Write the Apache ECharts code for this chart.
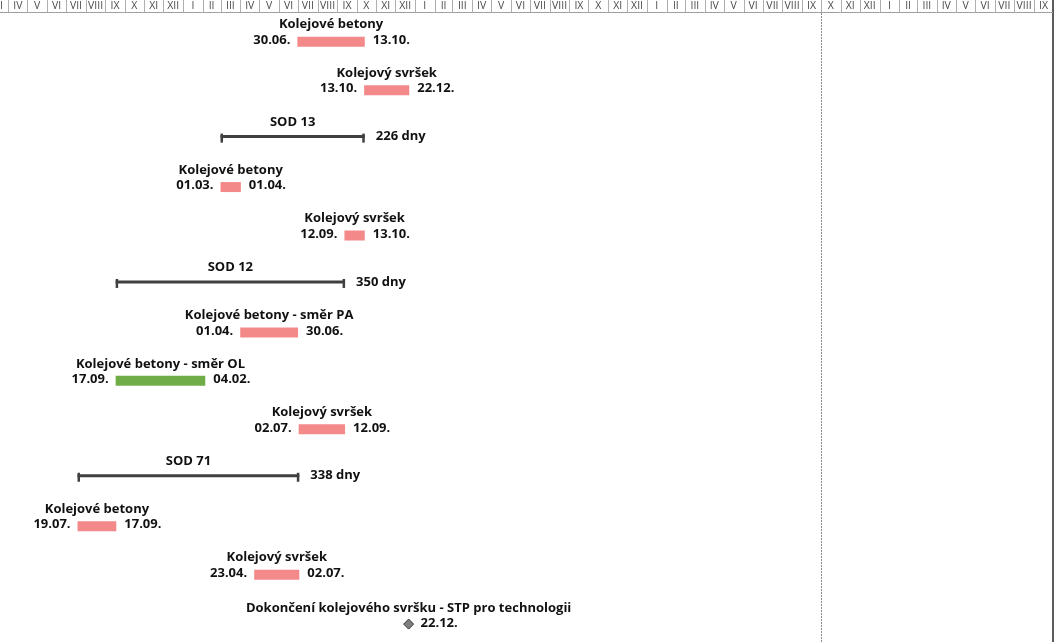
<!DOCTYPE html>
<html>
<head>
<meta charset="utf-8">
<script src="https://cdn.jsdelivr.net/npm/echarts@6/dist/echarts.min.js"></script>
<style>html,body{margin:0;padding:0;background:#fff}#c{width:1064px;height:642px}</style>
</head>
<body>
<div id="c"></div>
<script>
// ---- axis / tick labels ----
const romanMonths = ['I','II','III','IV','V','VI','VII','VIII','IX','X','XI','XII'];
const axisStart = '2025-03-19';
const axisEnd = '2029-10-01';
const statusDate = '2028-10-01';

// ---- task bars ----
const taskRows   = [0, 1, 3, 4, 6, 7, 8, 10, 11];
const taskNames  = ['Kolejové betony', 'Kolejový svršek', 'Kolejové betony', 'Kolejový svršek',
                    'Kolejové betony - směr PA', 'Kolejové betony - směr OL', 'Kolejový svršek',
                    'Kolejové betony', 'Kolejový svršek'];
const taskStarts = ['2026-06-30', '2026-10-13', '2026-03-01', '2026-09-12',
                    '2026-04-01', '2025-09-17', '2026-07-02', '2025-07-19', '2026-04-23'];
const taskEnds   = ['2026-10-13', '2026-12-22', '2026-04-01', '2026-10-13',
                    '2026-06-30', '2026-02-04', '2026-09-12', '2025-09-17', '2026-07-02'];
const taskGroups = ['plan', 'plan', 'plan', 'plan', 'plan', 'alt', 'plan', 'plan', 'plan'];

// ---- summary (SOD) lines ----
const summaryRows   = [2, 5, 9];
const summaryNames  = ['SOD 13', 'SOD 12', 'SOD 71'];
const summaryStarts = ['2026-03-01', '2025-09-17', '2025-07-19'];
const summaryEnds   = ['2026-10-13', '2026-09-12', '2026-07-02'];
const summaryDays   = [226, 350, 338];

// ---- milestones ----
const milestoneRows  = [12];
const milestoneNames = ['Dokončení kolejového svršku - STP pro technologii'];
const milestoneDates = ['2026-12-22'];

// ---- helpers ----
function toTime(s, addDays) {
  const p = s.split('-').map(Number);
  return new Date(p[0], p[1] - 1, p[2] + (addDays || 0)).getTime();
}
function dm(s) { const p = s.split('-'); return p[2] + '.' + p[1] + '.'; }

const COLORS = { plan: '#F4898A', alt: '#70AD47' };
const BOLD = 'bold 13px "Open Sans", "Noto Sans", sans-serif';
const TXT = '#111111';

// month cells for the header
const months = [];
(function () {
  const a = new Date(toTime(axisStart));
  const e = toTime(axisEnd);
  let y = a.getFullYear(), m = a.getMonth();
  while (new Date(y, m, 1).getTime() < e) {
    months.push([new Date(y, m, 1).getTime(), new Date(y, m + 1, 1).getTime(), m]);
    m++; if (m > 11) { m = 0; y++; }
  }
})();

const taskData = taskRows.map((r, i) => [toTime(taskStarts[i]), toTime(taskEnds[i], 1), r, i]);
const summaryData = summaryRows.map((r, i) => [toTime(summaryStarts[i]), toTime(summaryEnds[i], 1), r, i]);
const milestoneData = milestoneRows.map((r, i) => [toTime(milestoneDates[i]), r, i]);

const chart = echarts.init(document.getElementById('c'), null, { renderer: 'canvas' });

chart.setOption({
  animation: false,
  backgroundColor: '#ffffff',
  grid: { left: 0, right: 11, top: 0, bottom: 0, containLabel: false },
  xAxis: {
    type: 'time', min: toTime(axisStart), max: toTime(axisEnd),
    show: false, splitLine: { show: false }
  },
  yAxis: {
    type: 'value', inverse: true, min: -0.861, max: 12.39, position: 'right',
    axisLine: { show: true, onZero: false, lineStyle: { color: '#262626', width: 1.5 } },
    axisTick: { show: false }, axisLabel: { show: false }, splitLine: { show: false }
  },
  series: [
    {
      // month header
      type: 'custom', clip: true, silent: true,
      encode: { x: [0, 1] },
      data: months,
      renderItem: function (params, api) {
        const s = api.coord([api.value(0), 0]);
        const e = api.coord([api.value(1), 0]);
        const top = params.coordSys.y;
        const xs = Math.round(s[0]) + 0.5;
        return {
          type: 'group', children: [
            { type: 'line', shape: { x1: xs, y1: top, x2: xs, y2: top + 12.5 },
              style: { stroke: '#b0b0b0', lineWidth: 1 } },
            { type: 'line', shape: { x1: s[0], y1: top + 12.5, x2: e[0], y2: top + 12.5 },
              style: { stroke: '#a0a0a0', lineWidth: 1 } },
            { type: 'text', x: (s[0] + e[0]) / 2, y: top + 6.5,
              style: { text: romanMonths[api.value(2)], align: 'center', verticalAlign: 'middle',
                       font: '10.5px "Open Sans", sans-serif', fill: '#4a4a4a' } }
          ]
        };
      }
    },
    {
      // status line
      type: 'custom', clip: true, silent: true,
      encode: { x: 0 },
      data: [[toTime(statusDate)]],
      renderItem: function (params, api) {
        const p = api.coord([api.value(0), 0]);
        const top = params.coordSys.y + 13;
        const bottom = params.coordSys.y + params.coordSys.height;
        const x = Math.round(p[0]) + 0.5;
        return { type: 'line', shape: { x1: x, y1: top, x2: x, y2: bottom },
                 style: { stroke: '#8c8c8c', lineWidth: 1, lineDash: [2, 1] } };
      }
    },
    {
      // task bars
      type: 'custom', silent: true,
      encode: { x: [0, 1], y: 2 },
      data: taskData,
      renderItem: function (params, api) {
        const i = api.value(3);
        const s = api.coord([api.value(0), api.value(2)]);
        const e = api.coord([api.value(1), api.value(2)]);
        const y = s[1];
        return {
          type: 'group', children: [
            { type: 'rect', shape: { x: s[0], y: y - 5, width: e[0] - s[0], height: 10 },
              style: { fill: COLORS[taskGroups[i]] } },
            { type: 'text', x: (s[0] + e[0]) / 2, y: y - 17,
              style: { text: taskNames[i], align: 'center', verticalAlign: 'middle', font: BOLD, fill: TXT } },
            { type: 'text', x: s[0] - 7, y: y - 1.5,
              style: { text: dm(taskStarts[i]), align: 'right', verticalAlign: 'middle', font: BOLD, fill: TXT } },
            { type: 'text', x: e[0] + 8, y: y - 1.5,
              style: { text: dm(taskEnds[i]), align: 'left', verticalAlign: 'middle', font: BOLD, fill: TXT } }
          ]
        };
      }
    },
    {
      // summary lines
      type: 'custom', silent: true,
      encode: { x: [0, 1], y: 2 },
      data: summaryData,
      renderItem: function (params, api) {
        const i = api.value(3);
        const s = api.coord([api.value(0), api.value(2)]);
        const e = api.coord([api.value(1), api.value(2)]);
        const y = s[1] - 2;
        const c = '#404040';
        return {
          type: 'group', children: [
            { type: 'rect', shape: { x: s[0], y: y - 1.5, width: e[0] - s[0], height: 3 }, style: { fill: c } },
            { type: 'rect', shape: { x: s[0], y: y - 3, width: 2.5, height: 9 }, style: { fill: c } },
            { type: 'rect', shape: { x: e[0] - 2.5, y: y - 3, width: 2.5, height: 9 }, style: { fill: c } },
            { type: 'text', x: (s[0] + e[0]) / 2, y: y - 14.5,
              style: { text: summaryNames[i], align: 'center', verticalAlign: 'middle', font: BOLD, fill: TXT } },
            { type: 'text', x: e[0] + 11, y: y,
              style: { text: summaryDays[i] + ' dny', align: 'left', verticalAlign: 'middle', font: BOLD, fill: TXT } }
          ]
        };
      }
    },
    {
      // milestones
      type: 'custom', silent: true,
      encode: { x: 0, y: 1 },
      data: milestoneData,
      renderItem: function (params, api) {
        const i = api.value(2);
        const p = api.coord([api.value(0), api.value(1)]);
        const x = p[0], y = p[1] + 1;
        return {
          type: 'group', children: [
            { type: 'polygon', shape: { points: [[x, y - 5], [x + 5, y], [x, y + 5], [x - 5, y]] },
              style: { fill: '#7f7f7f', stroke: '#333333', lineWidth: 1 } },
            { type: 'text', x: x, y: y - 16,
              style: { text: milestoneNames[i], align: 'center', verticalAlign: 'middle', font: BOLD, fill: TXT } },
            { type: 'text', x: x + 12, y: y - 1,
              style: { text: dm(milestoneDates[i]), align: 'left', verticalAlign: 'middle', font: BOLD, fill: TXT } }
          ]
        };
      }
    }
  ]
});
</script>
</body>
</html>
